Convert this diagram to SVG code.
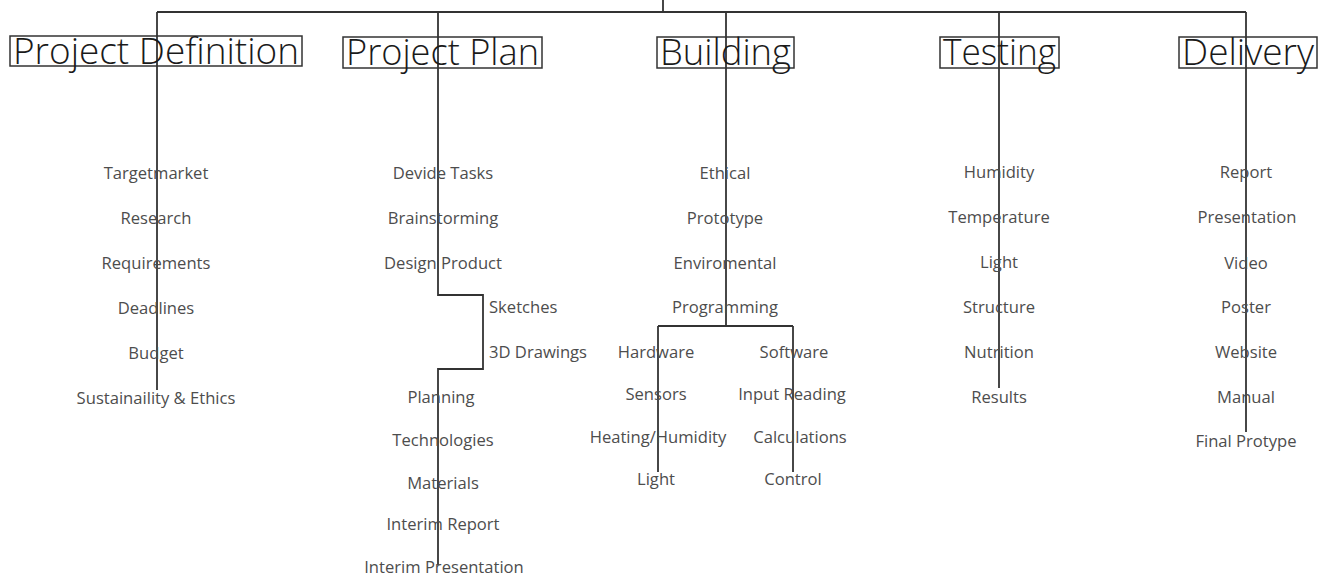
<svg xmlns="http://www.w3.org/2000/svg" width="1330" height="578" viewBox="0 0 1330 578">
  <style>
    .wire { fill: none; stroke: #333; stroke-width: 1.8; }
    .hbox { fill: none; stroke: #333; stroke-width: 1.5; }
    .head { font-family: "Open Sans", "Liberation Sans", sans-serif; font-weight: 300; font-size: 36px; fill: #1a1a1a; }
    .item { font-family: "Open Sans", "Liberation Sans", sans-serif; font-size: 16.6px; fill: #4d4d4d; text-anchor: middle; }
    .side { font-family: "Open Sans", "Liberation Sans", sans-serif; font-size: 16.6px; fill: #4d4d4d; }
  </style>
  <rect width="1330" height="578" fill="#fff"/>

  <!-- connectors -->
  <g id="connectors" class="wire">
    <path d="M663 0 V12"/>
    <path d="M157 12 H1246"/>
    <path d="M157 12 V390"/>
    <path d="M438 12 V295 H483 V369 H438 V565"/>
    <path d="M726 12 V326"/>
    <path d="M658 326 H793"/>
    <path d="M658 326 V472"/>
    <path d="M793 326 V472"/>
    <path d="M999 12 V388"/>
    <path d="M1246 12 V432"/>
  </g>

  <!-- Project Definition -->
  <g id="project-definition">
    <rect class="hbox" x="10" y="36" width="292" height="30"/>
    <text class="head" x="13" y="64" textLength="286" lengthAdjust="spacingAndGlyphs">Project Definition</text>
    <text class="item" x="156" y="179">Targetmarket</text>
    <text class="item" x="156" y="224">Research</text>
    <text class="item" x="156" y="269">Requirements</text>
    <text class="item" x="156" y="314">Deadlines</text>
    <text class="item" x="156" y="359">Budget</text>
    <text class="item" x="156" y="404">Sustainaility &amp; Ethics</text>
  </g>

  <!-- Project Plan -->
  <g id="project-plan">
    <rect class="hbox" x="343" y="37" width="199" height="31"/>
    <text class="head" x="346" y="65" textLength="193" lengthAdjust="spacingAndGlyphs">Project Plan</text>
    <text class="item" x="443" y="179">Devide Tasks</text>
    <text class="item" x="443" y="224">Brainstorming</text>
    <text class="item" x="443" y="269">Design Product</text>
    <text class="side" x="489" y="313">Sketches</text>
    <text class="side" x="489" y="358">3D Drawings</text>
    <text class="item" x="441" y="403">Planning</text>
    <text class="item" x="443" y="446">Technologies</text>
    <text class="item" x="443" y="489">Materials</text>
    <text class="item" x="443" y="530">Interim Report</text>
    <text class="item" x="444" y="573">Interim Presentation</text>
  </g>

  <!-- Building -->
  <g id="building">
    <rect class="hbox" x="657" y="37" width="137" height="31"/>
    <text class="head" x="660" y="65" textLength="131" lengthAdjust="spacingAndGlyphs">Building</text>
    <text class="item" x="725" y="179">Ethical</text>
    <text class="item" x="725" y="224">Prototype</text>
    <text class="item" x="725" y="269">Enviromental</text>
    <text class="item" x="725" y="313">Programming</text>
    <text class="item" x="656" y="358">Hardware</text>
    <text class="item" x="656" y="400">Sensors</text>
    <text class="item" x="658" y="443">Heating/Humidity</text>
    <text class="item" x="656" y="485">Light</text>
    <text class="item" x="794" y="358">Software</text>
    <text class="item" x="792" y="400">Input Reading</text>
    <text class="item" x="800" y="443">Calculations</text>
    <text class="item" x="793" y="485">Control</text>
  </g>

  <!-- Testing -->
  <g id="testing">
    <rect class="hbox" x="940" y="37" width="119" height="31"/>
    <text class="head" x="943" y="65" textLength="113" lengthAdjust="spacingAndGlyphs">Testing</text>
    <text class="item" x="999" y="178">Humidity</text>
    <text class="item" x="999" y="223">Temperature</text>
    <text class="item" x="999" y="268">Light</text>
    <text class="item" x="999" y="313">Structure</text>
    <text class="item" x="999" y="358">Nutrition</text>
    <text class="item" x="999" y="403">Results</text>
  </g>

  <!-- Delivery -->
  <g id="delivery">
    <rect class="hbox" x="1179" y="37" width="138" height="31"/>
    <text class="head" x="1182" y="65" textLength="132" lengthAdjust="spacingAndGlyphs">Delivery</text>
    <text class="item" x="1246" y="178">Report</text>
    <text class="item" x="1247" y="223">Presentation</text>
    <text class="item" x="1246" y="269">Video</text>
    <text class="item" x="1246" y="313">Poster</text>
    <text class="item" x="1246" y="358">Website</text>
    <text class="item" x="1246" y="403">Manual</text>
    <text class="item" x="1246" y="447">Final Protype</text>
  </g>
</svg>
